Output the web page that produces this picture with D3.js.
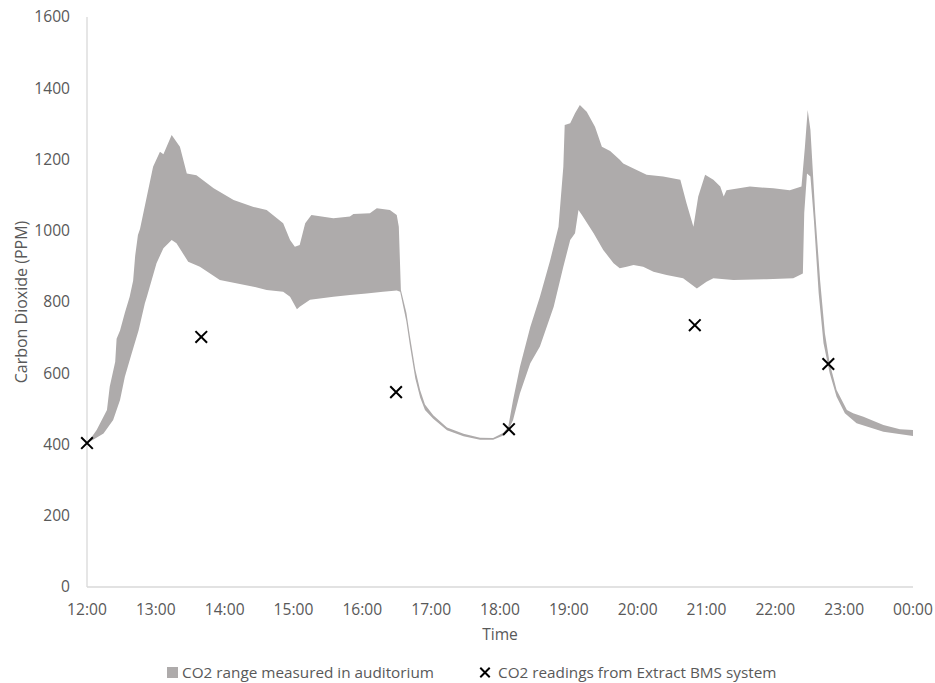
<!DOCTYPE html>
<html><head><meta charset="utf-8">
<script src="https://cdn.jsdelivr.net/npm/d3@7"></script>
<style>body{margin:0;background:#fff;} text{font-family:"Open Sans",sans-serif;}</style>
</head><body><svg id="c" width="935" height="683"></svg>
<script>
// Upper bound of CO2 range (hours since midnight, ppm)
const upperTimes = [12.00,12.02,12.14,12.29,12.33,12.41,12.43,12.48,12.55,12.62,12.67,12.70,12.74,12.77,12.96,13.06,13.11,13.23,13.35,13.45,13.59,13.84,14.13,14.42,14.61,14.85,14.95,15.02,15.09,15.17,15.26,15.58,15.82,15.87,16.11,16.21,16.40,16.50,16.53,16.56,16.64,16.69,16.77,16.84,16.91,17.03,17.23,17.47,17.71,17.90,18.05,18.12,18.19,18.29,18.44,18.58,18.73,18.85,18.92,18.94,19.02,19.09,19.16,19.26,19.38,19.48,19.60,19.74,19.79,19.94,20.13,20.37,20.62,20.71,20.81,20.88,20.98,21.10,21.20,21.25,21.29,21.63,21.97,22.21,22.38,22.43,22.47,22.51,22.58,22.65,22.72,22.79,22.89,23.04,23.13,23.28,23.57,23.81,24.00];
const upperValues = [404,408,441,497,562,632,697,720,770,815,860,930,988,1005,1180,1222,1215,1269,1236,1161,1156,1119,1086,1067,1058,1021,974,955,960,1021,1044,1035,1040,1047,1049,1063,1058,1044,1011,834,770,705,610,552,512,482,448,430,419,418,433,450,525,618,730,815,918,1011,1180,1297,1302,1330,1353,1334,1292,1236,1224,1199,1189,1175,1157,1152,1143,1077,1011,1096,1157,1143,1124,1096,1114,1124,1119,1114,1124,1236,1339,1283,1049,862,712,628,553,497,488,478,455,443,441];
// Lower bound of CO2 range
const lowerTimes = [12.00,12.04,12.24,12.38,12.48,12.55,12.65,12.75,12.84,12.87,13.01,13.11,13.23,13.30,13.47,13.64,13.93,14.13,14.42,14.61,14.85,14.95,15.05,15.09,15.24,15.58,15.82,16.06,16.30,16.50,16.55,16.64,16.69,16.77,16.84,16.91,17.03,17.23,17.47,17.71,17.90,18.05,18.12,18.19,18.29,18.44,18.58,18.78,18.92,19.02,19.09,19.14,19.19,19.36,19.50,19.65,19.74,19.84,19.94,20.08,20.23,20.42,20.66,20.86,21.00,21.10,21.39,21.87,22.26,22.40,22.42,22.46,22.51,22.56,22.63,22.70,22.79,22.89,23.01,23.18,23.57,24.00];
const lowerValues = [400,408,431,469,525,590,656,721,796,815,909,951,974,965,913,899,862,854,843,834,829,815,780,787,806,815,820,824,829,832,829,745,680,585,532,497,472,440,423,413,413,425,440,469,544,628,675,787,899,974,993,1058,1044,993,946,909,895,899,904,899,885,876,867,838,857,867,862,864,867,880,1050,1161,1152,1030,824,684,600,534,488,460,436,424];
// BMS extract readings
const bmsTimes = [12.00,13.66,16.49,18.13,20.83,22.77];
const bmsValues = [404,702,547,443,735,626];
const xTickHours = [12,13,14,15,16,17,18,19,20,21,22,23,24];
const xTickLabels = ["12:00","13:00","14:00","15:00","16:00","17:00","18:00","19:00","20:00","21:00","22:00","23:00","00:00"];
const yTicks = [0,200,400,600,800,1000,1200,1400,1600];

const svg = d3.select("#c");
const x = d3.scaleLinear().domain([12,24]).range([87,913]);
const y = d3.scaleLinear().domain([0,1600]).range([587,17]);
const fs = 15.6;

// area polygon: upper forward, lower backward
const pts = upperTimes.map((t,i)=>[t,upperValues[i]])
  .concat(lowerTimes.map((t,i)=>[t,lowerValues[i]]).reverse());
const line = d3.line().x(d=>x(d[0])).y(d=>y(d[1]));
svg.append("path").attr("d", line(pts)+"Z").attr("fill","#aeabab").attr("stroke","none");

// axes lines
svg.append("line").attr("x1",x(12)).attr("x2",x(12)).attr("y1",y(1600)).attr("y2",y(0)).attr("stroke","#d9d9d9").attr("stroke-width",1.3);
svg.append("line").attr("x1",x(12)).attr("x2",x(24)).attr("y1",y(0)).attr("y2",y(0)).attr("stroke","#d9d9d9").attr("stroke-width",1.3);

// y tick labels
svg.append("g").selectAll("text").data(yTicks).join("text")
  .attr("x",70).attr("y",d=>y(d)).attr("dy","0.35em").attr("text-anchor","end")
  .attr("font-size",fs).attr("fill","#595959").text(d=>d);
// x tick labels
svg.append("g").selectAll("text").data(xTickHours).join("text")
  .attr("x",d=>x(d)).attr("y",610).attr("dy","0.35em").attr("text-anchor","middle")
  .attr("font-size",fs).attr("fill","#595959").text((d,i)=>xTickLabels[i]);

// axis titles
svg.append("text").attr("x",x(18)).attr("y",635).attr("dy","0.35em").attr("text-anchor","middle")
  .attr("font-size",fs).attr("fill","#595959").text("Time");
svg.append("text").attr("transform","translate(21,302) rotate(-90)").attr("dy","0.35em").attr("text-anchor","middle")
  .attr("font-size",16).attr("fill","#595959").text("Carbon Dioxide (PPM)");

// BMS crosses
const sym = d3.symbol().type(d3.symbolX).size(90);
svg.append("g").selectAll("path").data(bmsTimes).join("path")
  .attr("transform",(d,i)=>`translate(${x(d)},${y(bmsValues[i])})`)
  .attr("d",sym).attr("fill","none").attr("stroke","#000").attr("stroke-width",2);

// legend
const lg = svg.append("g");
const ly = 672.5;
lg.append("rect").attr("x",167).attr("y",ly-5.5).attr("width",11).attr("height",11).attr("fill","#aeabab");
lg.append("text").attr("x",182).attr("y",ly).attr("dy","0.35em").attr("font-size",15.3).attr("fill","#595959").text("CO2 range measured in auditorium");
lg.append("path").attr("transform",`translate(485,${ly})`).attr("d",d3.symbol().type(d3.symbolX).size(60)).attr("fill","none").attr("stroke","#000").attr("stroke-width",2);
lg.append("text").attr("x",498).attr("y",ly).attr("dy","0.35em").attr("font-size",15.3).attr("fill","#595959").text("CO2 readings from Extract BMS system");
</script></body></html>
